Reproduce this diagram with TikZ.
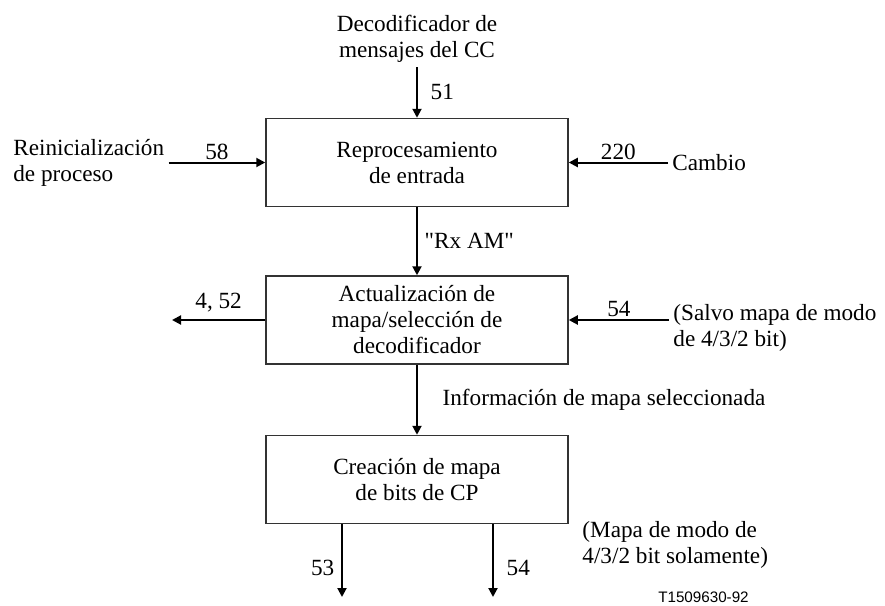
\documentclass[tikz,border=0pt]{standalone}
\usepackage{fontspec}
\setmainfont{Liberation Serif}
\newfontfamily\tagfont{Liberation Sans}
\usetikzlibrary{arrows.meta,positioning}
\newcommand\dq{\XeTeXglyph\XeTeXcharglyph34\relax}

\begin{document}
\begin{tikzpicture}[x=0.5pt,y=-0.5pt,font=\fontsize{11.6}{13}\selectfont,node distance=34pt,
  blk/.style={draw=black!80,line width=0.75pt,minimum width=151pt,minimum height=44pt,align=center},
  txt/.style={inner sep=2pt,align=left},
  num/.style={inner sep=1pt},
  arr/.style={-{Triangle[length=4.5pt,width=4.5pt]},line width=1pt}]
\useasboundingbox (0,0) rectangle (885,606);
\node[blk] (b1) at (417,162.5) {Reprocesamiento\\de entrada};
\node[blk,below=of b1] (b2) {Actualización de\\mapa/selección de\\decodificador};
\node[blk,below=35pt of b2] (b3) {Creación de mapa\\de bits de CP};
% entradas y salidas
\node[txt,align=center] (dec) at (417,39) {Decodificador de\\mensajes del CC};
\node[txt,anchor=west] (reini) at (9,163) {Reinicialización\\de proceso};
\node[txt,anchor=west] (cambio) at (668,162.5) {Cambio};
\node[txt,anchor=west] (salvo) at (669,327.5) {(Salvo mapa de modo\\de 4/3/2 bit)};
\node[txt,anchor=west] (solo) at (578,545) {(Mapa de modo de\\4/3/2 bit solamente)};
\coordinate (o452) at (172,318.5);
\coordinate (o53) at (342,597);
\coordinate (o54) at (493,597);
\draw[arr] (dec.south) -- (b1.north) node[midway,right=3pt] {51};
\draw[arr] (reini.east |- b1.west) -- (b1.west) node[midway,above,num] {58};
\draw[arr] (cambio.west |- b1.east) -- (b1.east) node[midway,above,num] {220};
\draw[arr] (b1) -- (b2) node[midway,right] {\dq Rx AM\dq};
\draw[arr] (b2.west) -- (b2.west -| o452) node[midway,above] {4, 52};
\draw[arr] (salvo.west |- b2.east) -- (b2.east) node[midway,above,num] {54};
\draw[arr] (b2) -- (b3) node[midway,right=9pt] {Información de mapa seleccionada};
\draw[arr] (b3.south -| o53) -- (o53) node[pos=0.6,left] {53};
\draw[arr] (b3.south -| o54) -- (o54) node[pos=0.6,right=3pt] {54};
\node[font=\tagfont\fontsize{7.6}{9}\selectfont] (tag) at (703.5,597) {T1509630-92};
\end{tikzpicture}
\end{document}
